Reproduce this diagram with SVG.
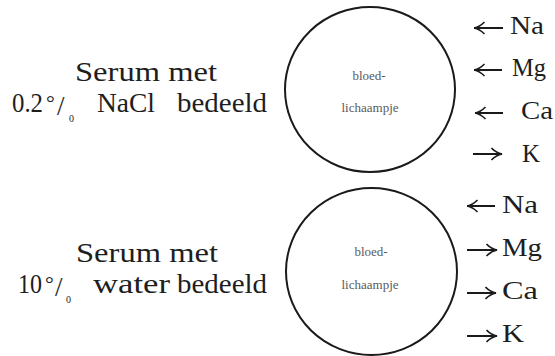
<svg xmlns="http://www.w3.org/2000/svg" width="555" height="356" viewBox="0 0 555 356" font-family="Liberation Serif, serif">
  <defs>
    <style>
      .lbl { font-size: 27px; fill: #1e1e1e; }
      .deg { font-size: 22px; fill: #1e1e1e; }
      .ion { font-size: 26px; fill: #1e1e1e; }
      .sub { font-size: 10px; fill: #1e1e1e; }
      .cell { fill: none; stroke: #1a1a1a; stroke-width: 2; }
      .cap { font-size: 13px; fill: #5a5a5a; text-anchor: middle; }
      .flow { fill: none; stroke: #1a1a1a; stroke-width: 2; marker-end: url(#head); }
    </style>
    <marker id="head" viewBox="0 0 12 14" refX="11.5" refY="7" markerWidth="12" markerHeight="14" orient="auto" markerUnits="userSpaceOnUse">
      <path d="M1,1 Q6,6 11.5,7 Q6,8 1,13" fill="none" stroke="#1a1a1a" stroke-width="1.6"/>
    </marker>
  </defs>

  <rect width="555" height="356" fill="#ffffff"/>

  <!-- upper condition: serum with 0.2 % NaCl -->
  <g id="label-nacl">
    <text class="lbl" x="75" y="81" textLength="142" lengthAdjust="spacingAndGlyphs">Serum met</text>
    <text class="lbl" x="12" y="112" textLength="31" lengthAdjust="spacingAndGlyphs">0.2</text>
    <text class="deg" x="46" y="110">°</text>
    <text class="lbl" x="57" y="115">/</text>
    <text class="sub" x="69" y="122">0</text>
    <text class="lbl" x="97" y="112" textLength="58" lengthAdjust="spacingAndGlyphs">NaCl</text>
    <text class="lbl" x="177" y="112" textLength="90" lengthAdjust="spacingAndGlyphs">bedeeld</text>
  </g>

  <g id="cell-top">
    <ellipse class="cell" cx="370" cy="89.5" rx="85" ry="82.5"/>
    <text class="cap" x="369" y="80">bloed-</text>
    <text class="cap" x="370" y="112">lichaampje</text>
  </g>

  <g id="ions-top">
    <text class="ion" x="510" y="34" textLength="34" lengthAdjust="spacingAndGlyphs">Na</text>
    <text class="ion" x="512" y="76" textLength="34" lengthAdjust="spacingAndGlyphs">Mg</text>
    <text class="ion" x="521" y="119" textLength="32" lengthAdjust="spacingAndGlyphs">Ca</text>
    <text class="ion" x="522" y="162" textLength="18" lengthAdjust="spacingAndGlyphs">K</text>
  </g>

  <!-- lower condition: serum with 10 % water -->
  <g id="label-water">
    <text class="lbl" x="76" y="262" textLength="142" lengthAdjust="spacingAndGlyphs">Serum met</text>
    <text class="lbl" x="18" y="293" textLength="24" lengthAdjust="spacingAndGlyphs">10</text>
    <text class="deg" x="45" y="291">°</text>
    <text class="lbl" x="55" y="296">/</text>
    <text class="sub" x="66" y="303">0</text>
    <text class="lbl" x="93" y="293" textLength="77" lengthAdjust="spacingAndGlyphs">water</text>
    <text class="lbl" x="177" y="293" textLength="90" lengthAdjust="spacingAndGlyphs">bedeeld</text>
  </g>

  <g id="cell-bottom">
    <ellipse class="cell" cx="371.5" cy="271.5" rx="85.5" ry="83.5"/>
    <text class="cap" x="371" y="256">bloed-</text>
    <text class="cap" x="370" y="289">lichaampje</text>
  </g>

  <g id="ions-bottom">
    <text class="ion" x="502" y="213" textLength="36" lengthAdjust="spacingAndGlyphs">Na</text>
    <text class="ion" x="502" y="256" textLength="40" lengthAdjust="spacingAndGlyphs">Mg</text>
    <text class="ion" x="502" y="299" textLength="36" lengthAdjust="spacingAndGlyphs">Ca</text>
    <text class="ion" x="502" y="342" textLength="22" lengthAdjust="spacingAndGlyphs">K</text>
  </g>

  <!-- ion movements across the membrane -->
  <g id="connectors">
    <path class="flow" d="M503,28 H474"/>
    <path class="flow" d="M502,70 H474"/>
    <path class="flow" d="M503,113 H475"/>
    <path class="flow" d="M473,154 H502"/>
    <path class="flow" d="M495,206 H467"/>
    <path class="flow" d="M467,250 H497"/>
    <path class="flow" d="M467,293 H496"/>
    <path class="flow" d="M467,336 H497"/>
  </g>
</svg>
